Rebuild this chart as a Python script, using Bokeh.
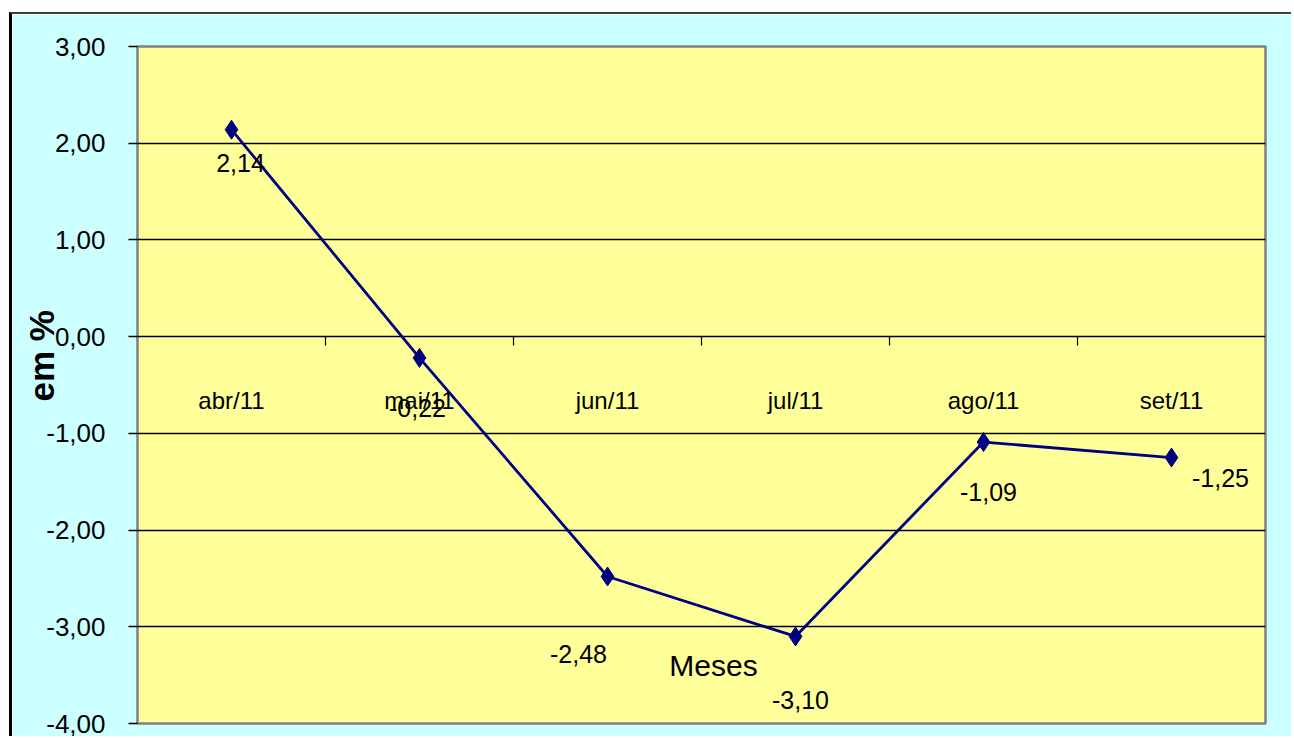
from bokeh.plotting import figure
from bokeh.models import FixedTicker, LinearAxis, Label, ColumnDataSource
from bokeh.core.properties import value
from bokeh.embed import file_html
from bokeh.resources import INLINE

months = ["abr/11", "mai/11", "jun/11", "jul/11", "ago/11", "set/11"]
values = [2.14, -0.22, -2.48, -3.10, -1.09, -1.25]
value_labels = ["2,14", "-0,22", "-2,48", "-3,10", "-1,09", "-1,25"]
y_ticks = [-4, -3, -2, -1, 0, 1, 2, 3]
y_tick_labels = ["-4,00", "-3,00", "-2,00", "-1,00", "0,00", "1,00", "2,00", "3,00"]
# label offsets in screen pixels (style only)
label_dx = [9, -2, -29, 5, 5, 49]
label_dy = [33, 50, 78, 64, 50, 20]

xs = [i + 0.5 for i in range(len(months))]

FONT = "Liberation Sans"

W, H = 1282, 724
p = figure(width=W, height=H, x_range=(0, len(months)), y_range=(-4, 3),
           output_backend="svg", toolbar_location=None, x_axis_location=None,
           min_border_left=125, min_border_right=29, min_border_top=32, min_border_bottom=15)
p.styles = {"margin-top": "12px", "border-top": "2px solid #404040",
            "margin-left": "9px", "border-left": "3px solid #000000"}
p.border_fill_color = "#CCFFFF"
p.background_fill_color = "#FFFF99"
p.outline_line_color = "#808080"
p.outline_line_width = 2.5

p.xgrid.visible = False
p.ygrid.ticker = FixedTicker(ticks=[-3, -2, -1, 0, 1, 2])
p.ygrid.grid_line_color = "black"
p.ygrid.grid_line_width = 1.6

ya = p.yaxis[0]
ya.ticker = FixedTicker(ticks=y_ticks)
ya.major_label_overrides = {t: l for t, l in zip(y_ticks, y_tick_labels)}
ya.axis_line_color = "#808080"
ya.major_tick_line_color = "black"
ya.major_tick_line_width = 1.5
ya.major_tick_out = 9
ya.major_tick_in = 0
ya.minor_tick_line_color = None
ya.major_label_text_font = FONT
ya.major_label_text_font_size = "26px"
ya.major_label_text_color = "black"
ya.major_label_standoff = 23
ya.axis_label = "\u00a0" * 6 + "em %"
ya.axis_label_text_font = FONT
ya.axis_label_text_font_size = "35px"
ya.axis_label_text_font_style = "bold"
ya.axis_label_text_color = "black"
ya.axis_label_standoff = -18

xa = LinearAxis(fixed_location=0)
xa.ticker = FixedTicker(ticks=xs, minor_ticks=[1, 2, 3, 4, 5])
xa.major_label_overrides = {x: m for x, m in zip(xs, months)}
xa.axis_line_color = None
xa.major_tick_line_color = None
xa.major_tick_out = 0
xa.major_tick_in = 0
xa.minor_tick_line_color = "black"
xa.minor_tick_line_width = 1.2
xa.minor_tick_out = 9
xa.minor_tick_in = 0
xa.major_label_text_font = FONT
xa.major_label_text_font_size = "24px"
xa.major_label_text_color = "black"
xa.major_label_standoff = 41
p.add_layout(xa, "below")

src = ColumnDataSource(dict(x=xs, y=values, lab=value_labels, dx=label_dx, dy=label_dy))
p.line("x", "y", source=src, line_color="#000080", line_width=2.8)
p.scatter("x", "y", source=src, marker="diamond", size=19, color="#000080")
p.text("x", "y", text="lab", source=src, x_offset="dx", y_offset="dy",
       text_font=value(FONT), text_font_size="25px", text_color="black",
       text_align="center", text_baseline="middle")

p.add_layout(Label(x=3.064, y=-3.40, text="Meses", text_font=FONT, text_font_size="30px",
                   text_color="black", text_align="center", text_baseline="middle"))

open("out.html", "w").write(file_html(p, INLINE))
